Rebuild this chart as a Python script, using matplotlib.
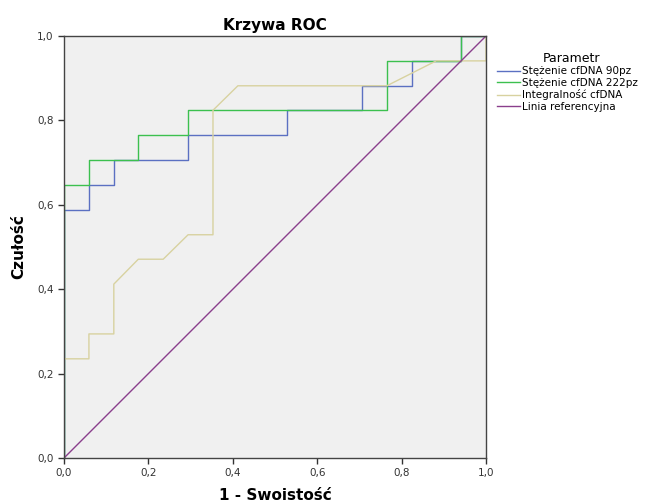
import matplotlib

matplotlib.use("Agg")
import matplotlib.pyplot as plt

# ROC curve vertices (1 - specificity, sensitivity)
fpr_90 = [0.0, 0.0, 0.059, 0.059, 0.118, 0.118, 0.294, 0.294, 0.529, 0.529,
          0.706, 0.706, 0.765, 0.765, 0.824, 0.824, 0.941, 0.941, 1.0]
tpr_90 = [0.0, 0.588, 0.588, 0.647, 0.647, 0.706, 0.706, 0.765, 0.765, 0.824,
          0.824, 0.882, 0.882, 0.882, 0.882, 0.941, 0.941, 1.0, 1.0]

fpr_222 = [0.0, 0.0, 0.059, 0.059, 0.176, 0.176, 0.294, 0.294, 0.765, 0.765,
           0.941, 0.941, 1.0]
tpr_222 = [0.0, 0.647, 0.647, 0.706, 0.706, 0.765, 0.765, 0.824, 0.824, 0.941,
           0.941, 1.0, 1.0]

fpr_int = [0.0, 0.0, 0.059, 0.059, 0.118, 0.118, 0.176, 0.235, 0.294, 0.353,
           0.353, 0.412, 0.765, 0.882, 1.0, 1.0]
tpr_int = [0.0, 0.235, 0.235, 0.294, 0.294, 0.412, 0.471, 0.471, 0.529, 0.529,
           0.824, 0.882, 0.882, 0.941, 0.941, 1.0]

ref_x = [0.0, 1.0]
ref_y = [0.0, 1.0]

labels = ["Stężenie cfDNA 90pz", "Stężenie cfDNA 222pz", "Integralność cfDNA", "Linia referencyjna"]
ticks = [0.0, 0.2, 0.4, 0.6, 0.8, 1.0]
tick_labels = ["0,0", "0,2", "0,4", "0,6", "0,8", "1,0"]

fig = plt.figure(figsize=(6.48, 5.04), dpi=100)
ax = fig.add_axes([0.0988, 0.0913, 0.6512, 0.8373])
ax.set_facecolor("#f0f0f0")

ax.plot(fpr_90, tpr_90, color="#5b70c2", lw=1.0, label=labels[0])
ax.plot(fpr_222, tpr_222, color="#3cc04f", lw=1.0, label=labels[1])
ax.plot(fpr_int, tpr_int, color="#d8d2a0", lw=1.0, label=labels[2])
ax.plot(ref_x, ref_y, color="#8a3f8c", lw=1.0, label=labels[3])

ax.set_xlim(0, 1)
ax.set_ylim(0, 1)
ax.set_xticks(ticks)
ax.set_xticklabels(tick_labels)
ax.set_yticks(ticks)
ax.set_yticklabels(tick_labels)
ax.tick_params(direction="out", length=4, width=1, labelsize=7.5, colors="#333333")
for s in ax.spines.values():
    s.set_color("#444444")
    s.set_linewidth(1.0)

ax.set_title("Krzywa ROC", fontsize=11, fontweight="bold", pad=4)
ax.set_xlabel("1 - Swoistość", fontsize=11, fontweight="bold", labelpad=7)
ax.set_ylabel("Czułość", fontsize=11, fontweight="bold", labelpad=8)

leg = ax.legend(loc="upper left", bbox_to_anchor=(1.005, 0.985), frameon=False,
                title="Parametr", fontsize=7.5, title_fontsize=9,
                handlelength=2.2, handletextpad=0.2, labelspacing=0.15)
leg._legend_box.align = "left"
leg.get_title().set_position((45, 0))

fig.savefig("out.png", dpi=100)
